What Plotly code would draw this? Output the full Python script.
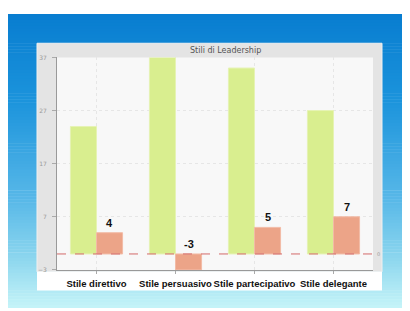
import plotly.graph_objects as go

categories = ["Stile direttivo", "Stile persuasivo", "Stile partecipativo", "Stile delegante"]
green_values = [24, 37, 35, 27]
orange_values = [4, -3, 5, 7]
y_ticks = [-3, 7, 17, 27, 37]
chart_title = "Stili di Leadership"

# the page body has an 8px margin, so figure pixels = window pixels - 8
OFF = 8
W, H = 402, 303

def px_x(x):
    return max(0.0, min(1.0, (x - OFF) / W))

def px_y(y):
    return max(0.0, min(1.0, 1 - (y - OFF) / H))

fig = go.Figure()
fig.add_trace(go.Bar(x=categories, y=green_values, marker=dict(color="#d9ee8f", line=dict(color="#e6f3b4", width=1)),
                     showlegend=False, hoverinfo="skip"))
fig.add_trace(go.Bar(x=categories, y=orange_values, marker=dict(color="#eca488", line=dict(color="#f2bba6", width=1)),
                     showlegend=False, hoverinfo="skip"))

shapes = []
# gradient background
stops = [(10, (8, 125, 208)), (100, (28, 148, 220)), (200, (88, 184, 232)), (260, (140, 214, 238)), (311, (198, 244, 248))]
n = 100
for i in range(n):
    y0 = 10 + (311 - 10) * i / n
    y1 = 10 + (311 - 10) * (i + 1) / n
    ym = (y0 + y1) / 2
    for (a, ca), (b, cb) in zip(stops[:-1], stops[1:]):
        if a <= ym <= b:
            t = (ym - a) / (b - a)
            c = tuple(int(round(ca[k] + (cb[k] - ca[k]) * t)) for k in range(3))
            break
    shapes.append(dict(type="rect", xref="paper", yref="paper", x0=px_x(5), x1=px_x(402),
                       y0=px_y(y1 + 0.5), y1=px_y(y0), fillcolor="rgb(%d,%d,%d)" % c, line=dict(width=0), layer="below"))
# panel
shapes.append(dict(type="rect", xref="paper", yref="paper", x0=px_x(37), x1=px_x(382), y0=px_y(274), y1=px_y(40),
                   fillcolor="#e4e4e4", line=dict(color="#f0f0f0", width=1), layer="below"))
# plot area background
shapes.append(dict(type="rect", xref="paper", yref="paper", x0=px_x(57), x1=px_x(373), y0=px_y(272), y1=px_y(54.5),
                   fillcolor="#f8f8f8", line=dict(width=0), layer="below"))
# white label strip
shapes.append(dict(type="rect", xref="paper", yref="paper", x0=px_x(37), x1=px_x(382), y0=px_y(293), y1=px_y(274),
                   fillcolor="#ffffff", line=dict(width=0), layer="below"))
# zero line
shapes.append(dict(type="line", xref="paper", yref="y", x0=px_x(57), x1=px_x(374), y0=0, y1=0,
                   line=dict(color="#d46a6a", width=1, dash="dash")))

annotations = [
    dict(text=chart_title, xref="paper", yref="paper", x=px_x(225), y=px_y(47), showarrow=False,
         font=dict(family="DejaVu Sans", size=8, color="#555555"), xanchor="center", yanchor="middle"),
    dict(text="0", xref="paper", yref="y", x=px_x(375), y=0, showarrow=False, xanchor="left", yanchor="middle",
         font=dict(family="DejaVu Sans", size=5, color="#999999")),
]
for c, v in zip(categories, orange_values):
    annotations.append(dict(text="<b>%d</b>" % v, x=c, y=max(v, 0), xref="x", yref="y", showarrow=False,
                            xshift=13, yshift=10, font=dict(family="Liberation Sans", size=11, color="#111111")))

fig.update_layout(
    width=W, height=H,
    margin=dict(l=0, r=0, t=0, b=0),
    paper_bgcolor="#ffffff",
    plot_bgcolor="rgba(0,0,0,0)",
    barmode="group", bargap=0.34, bargroupgap=0,
    shapes=shapes, annotations=annotations,
    xaxis=dict(domain=[px_x(57), px_x(373)], showgrid=True, gridcolor="#e6e6e6", griddash="3px,3px",
               showline=True, linecolor="#999999", ticks="outside", ticklen=3, tickcolor="#aaaaaa",
               tickangle=0, ticklabelstandoff=2,
               tickfont=dict(family="Liberation Sans", size=9.5, color="#111111"),
               tickprefix="<b>", ticksuffix="</b>", fixedrange=True),
    yaxis=dict(domain=[px_y(272), px_y(54.5)], range=[-3, 37], tickvals=y_ticks,
               showgrid=True, gridcolor="#e6e6e6", griddash="3px,3px", zeroline=False,
               showline=True, linecolor="#999999", ticks="outside", ticklen=4, tickcolor="#aaaaaa",
               ticklabelstandoff=4,
               tickfont=dict(family="DejaVu Sans", size=6, color="#999999"), fixedrange=True),
)

fig.write_html("out.html")
